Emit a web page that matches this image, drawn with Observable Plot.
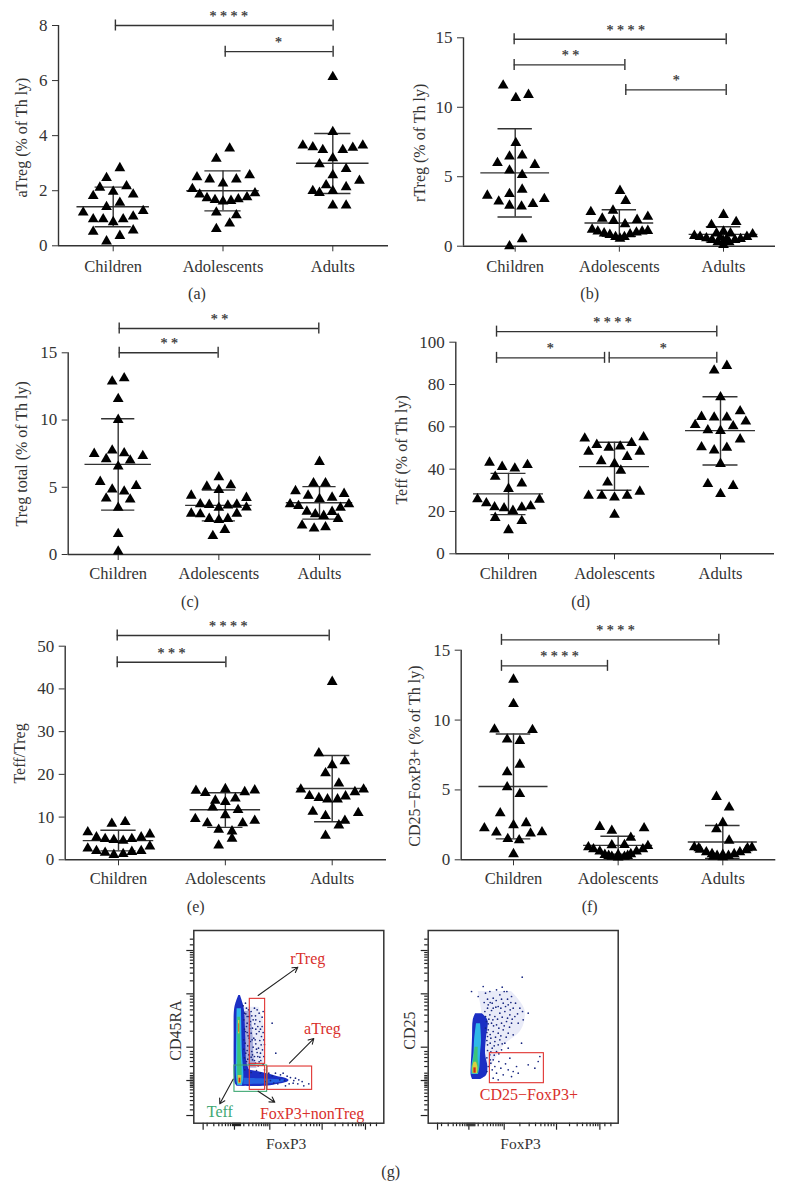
<!DOCTYPE html>
<html><head><meta charset="utf-8">
<script src="https://cdn.jsdelivr.net/npm/d3@7"></script>
<script src="https://cdn.jsdelivr.net/npm/@observablehq/plot@0.6"></script>
<style>
html,body{margin:0;padding:0;background:#fff}
#page{position:relative;width:786px;height:1190px;overflow:hidden;font-family:"Liberation Serif",serif;color:#333}
.tile{position:absolute}
.cap{position:absolute;font-size:16px;transform:translate(-50%,-50%);white-space:nowrap}
</style></head><body><div id="page"></div>
<script>
const groups=["Children","Adolescents","Adults"];
// (a) aTreg
const aChildren=[2.86,2.5,2.15,2.2,1.85,2.0,1.9,1.6,1.45,1.25,1.3,1.0,1.0,.9,1.0,1.1,.55,.6,.4,.2];
const aChildrenCol=[1,-1,-2,2,-3,0,3,1,-1,-4.5,4.5,-3,-1.5,0,1.5,3,-3,3,1,-1];
const aAdolescents=[3.57,3.2,2.53,2.45,2.3,2.45,2.6,2.1,1.9,1.77,1.7,1.65,1.67,1.73,1.8,1.95,1.25,1.15,.85,.65];
const aAdolescentsCol=[1,-1,-3.9,-2,0,2,4,-4.6,-3.5,-2.4,-1.2,0,1.2,2.3,3.6,4.8,-1,2,1,-1];
const aAdults=[6.17,4.17,3.68,3.62,3.52,3.52,3.6,3.68,3.22,3.0,2.83,2.6,2.4,2.24,2.17,2.03,1.96,2.03,1.5,1.5];
const aAdultsCol=[0,0,-4.5,-3,-1.5,1.5,3,4.5,0,-2,2,0,4,-1,2,-3,-2,0,0,2];
const aMean=[1.42,2.0,3.0], aUpper=[2.13,2.72,4.08], aLower=[.69,1.27,1.9];
const aBrackets=[[1.02,3.003,8,"* * * *",2.053],[2.02,3.003,7.05,"*",2.505]];
// (b) rTreg
const bChildren=[11.64,10.75,10.97,7.5,6.53,6.6,6.07,5.93,5.52,5.2,4.15,3.84,3.72,3.3,3.48,3.12,3.0,2.93,.58,.07];
const bChildrenCol=[-1.9,.1,2.1,.1,-.9,1.1,-2.8,3.1,-.9,1.1,1.1,-.9,-4.4,-2.6,4.6,2.8,-.9,1,1.1,-.9];
const bAdolescents=[4.06,3.34,2.54,2.64,2.2,2.06,1.97,1.9,1.66,1.27,1.13,1.0,.89,.74,.62,.74,.94,1.06,1.13,1.18];
const bAdolescentsCol=[.1,1,-4.5,-1,4.5,-2.7,2.8,-.9,.9,-4.3,-3.4,-2.4,-1.5,-.6,.1,.8,1.7,2.7,3.6,4.5];
const bAdults=[2.33,1.6,1.82,1.13,1.0,1.0,.82,.75,.65,.53,.36,.17,.36,.53,.6,.75,.94,.7,.6,.41];
const bAdultsCol=[0,-1.9,2,0,1.1,-1.1,-4.6,-3.7,-2.7,-1.8,-.9,0,.9,1.8,2.7,3.7,4.6,-.5,.5,0];
const bMean=[5.28,1.67,.85], bUpper=[8.45,2.62,1.4], bLower=[2.1,.72,.3];
const bBrackets=[[.99,3.026,14.9,"* * * *",2.062],[.99,2.053,13.05,"* *",1.531],[2.062,3.026,11.25,"*",2.546]];
// (c) Treg total
const cChildren=[13.19,12.94,11.65,10.09,7.81,7.56,7.61,7.41,7.17,7.07,6.62,5.48,5.18,4.91,4.76,4.24,4.17,3.55,1.61,.3];
const cChildrenCol=[1,-1,0,0,-1,-4,1,4.1,-2,2,0,-3,3,-1,1,-2,2,0,0,0];
const cAdolescents=[5.83,5.13,5.23,4.88,4.46,4.29,3.82,3.77,3.72,3.79,3.55,3.57,3.12,3.07,3.12,2.73,2.65,2.73,1.91,1.46];
const cAdolescentsCol=[0,-2,2,0,-4.6,4.6,-3.1,-1.6,1.5,3,0,4.6,-4.6,-3.1,3,-1.6,0,1.5,1,-1];
const cAdults=[6.97,5.38,5.38,4.79,4.46,4.31,4.59,4.21,3.82,3.69,3.82,3.55,3.27,3.25,3.07,2.95,2.73,2.23,2.11,2.01];
const cAdultsCol=[0,-1,1,-4,-1.9,2.1,4.1,0,-4.9,-3.5,4.9,3.5,-2.1,2.1,-.7,.7,3.1,-2.9,1,-.9];
const cMean=[6.7,3.65,3.85], cUpper=[10.1,4.8,5.05], cLower=[3.3,2.5,2.63];
const cBrackets=[[1.01,2.993,16.81,"* *",2.007],[1.01,1.993,15,"* *",1.507]];
// (d) Teff
const dChildren=[43.6,42.5,41.6,40.8,36.9,33.7,31.2,26.3,26.1,24.4,22.5,22,20.8,22.4,23,17.5,16,11.7];
const dChildrenCol=[-3,3,-1,1,-2.1,2.1,0,-4.9,4.9,-3.5,-2.2,-.7,.7,2.1,3.5,-2.1,2.1,0];
const dAdolescents=[55,55.6,52,52.9,50.7,51.2,48.7,48.8,46.3,44.3,43,39.8,34.2,29.9,27.9,27.9,28,27.1,19];
const dAdolescentsCol=[-4.7,4.6,-2.8,2.7,-.9,.9,-4.1,4,2,-2.1,0,1,-1.1,4,-4.1,-2,2,0,0];
const dAdults=[89.3,87.1,74.5,67.9,65.2,64.9,64.9,63,61.4,60.8,58.9,58.6,54.6,50.9,50.6,49.4,43,33.5,32.6,28.8];
const dAdultsCol=[1,-1,0,3.1,-3,-1,1,4,-4,2,-2,0,3.1,-3,1,-1,0,-2,2,0];
const dMean=[28.3,41.2,58.2], dUpper=[38,52.7,74.2], dLower=[18.5,30,42];
const dBrackets=[[.887,2.965,105,"* * * *",1.981],[.887,1.906,92.6,"*",1.393],[1.95,2.965,92.6,"*",2.459]];
// (e) Teff/Treg
const eChildren=[9.1,8.7,6.7,6.2,5.5,5.5,5.1,5.1,4.9,4.7,3.4,2.9,2.3,2.3,1.9,2.1,1.4,1.6];
const eChildrenCol=[1,-1,-4.6,4.7,-3.3,3.4,-2,2,-.7,.7,4.7,-4.6,-3.3,3.4,-2,2,-.7,.7];
const eAdolescents=[16.8,16.4,15.9,16.1,16.5,14.6,14.1,13.8,12.5,11.9,10.7,9.8,9.4,8.8,8.8,7.3,6.9,5.2,3.6];
const eAdolescentsCol=[0,-4.4,-3,2.9,4.4,1.5,-1.5,0,-1.9,1.9,0,-4.5,4.4,-2.7,2.6,-1,1,1,-1];
const eAdults=[41.9,25.2,23.3,22.4,20.5,18.1,16.7,16.7,15.2,16.1,14.7,14.4,14.4,15.1,11.5,11.2,10.5,9.4,8.3,5.9];
const eAdultsCol=[0,-2,1.9,0,-1,1,-4.7,4.7,-3.4,3.4,-2,-.7,.8,2,-2.9,3.9,-1,1.9,1,-1];
const eMean=[4.5,11.7,16.7], eUpper=[6.9,15.7,24.4], eLower=[2.1,7.6,8.9];
const eBrackets=[[.988,2.972,52.5,"* * * *",2.027],[.988,2.005,46.25,"* * *",1.496]];
// (f) CD25-FoxP3+
const fChildren=[12.97,11.23,9.4,9.37,8.68,8.59,6.89,6.34,5.27,4.79,3.41,2.7,2.55,2.34,2.03,2.05,1.96,1.57,1.48,.48];
const fChildrenCol=[0,0,-3,3,-1,1,1,-1,-1,1,-2.1,2,0,-4.6,-2.7,4.5,2.7,-.9,.9,0];
const fAdolescents=[2.43,2.34,2.15,1.65,1.12,1.14,.98,.83,.67,.43,.29,.24,.29,.48,.67,.83,1.07,.36,.36,.43];
const fAdolescentsCol=[-2.9,4.1,-1,2,-1,1,-4.7,-3.9,-2.9,-2.1,-1,0,1,2,2.9,3.9,4.7,-1.5,1.5,0];
const fAdults=[4.58,3.82,2.72,2.27,1.45,.98,.79,.62,.48,.36,.26,.36,.48,.62,.76,.95,.9,.9,.43,.3];
const fAdultsCol=[-1,1,0,-1,1,-4.5,-3.6,-2.6,-1.7,-.9,0,.9,1.8,2.7,3.7,4.6,-3.8,3.9,0,-1.5];
const fMean=[5.25,1.03,1.27], fUpper=[9,1.68,2.45], fLower=[1.5,.4,.1];
const fBrackets=[[.885,2.962,15.74,"* * * *",1.975],[.885,1.898,13.88,"* * * *",1.439]];

const ink="#333", serif="'Liberation Serif',serif";
const page=document.getElementById("page");
function place(el,left,top){const d=document.createElement("div");d.className="tile";d.style.left=left+"px";d.style.top=top+"px";d.appendChild(el);page.appendChild(d);}
function caption(t,x,y){const s=document.createElement("div");s.className="cap";s.textContent=t;s.style.left=x+"px";s.style.top=y+"px";page.appendChild(s);}

function scatterPanel(p){
  const pts=[];
  p.series.forEach((vals,g)=>vals.forEach((v,i)=>pts.push({x:g+1+p.cols[g][i]*p.slot,y:v})));
  const pxPerGroup=(p.x3-p.x1)/2;
  const xDom=[1-(p.x1-p.left)/pxPerGroup,3+(p.right-p.x3)/pxPerGroup];
  const h=(p.bottom-p.top)/p.ymax; // pixels per unit
  const q=5.5/h;
  const g=[1,2,3];
  const mk=[];
  const line={stroke:ink,strokeWidth:1.4};
  mk.push(Plot.ruleX([xDom[0]],{y1:0,y2:p.ymax,...line}));
  mk.push(Plot.ruleY([0],{x1:xDom[0],x2:xDom[1],...line}));
  mk.push(Plot.axisY({ticks:p.yticks,tickSize:6,tickPadding:5,fontSize:17,label:null,stroke:ink,fill:ink}));
  mk.push(Plot.axisX({ticks:g,tickSize:6,tickPadding:p.xPad,fontSize:16.5,label:null,stroke:ink,fill:ink,tickFormat:i=>groups[i-1]}));
  mk.push(Plot.ruleY(g,{y:i=>p.mean[i-1],x1:i=>i-.33,x2:i=>i+.33,...line}));
  mk.push(Plot.ruleY(g,{y:i=>p.upper[i-1],x1:i=>i-.165,x2:i=>i+.165,...line}));
  mk.push(Plot.ruleY(g,{y:i=>p.lower[i-1],x1:i=>i-.165,x2:i=>i+.165,...line}));
  mk.push(Plot.ruleX(g,{y1:i=>p.lower[i-1],y2:i=>p.upper[i-1],...line}));
  mk.push(Plot.dot(pts,{x:"x",y:"y",symbol:"triangle",r:4,fill:"#000",stroke:"none",dy:1}));
  mk.push(Plot.ruleY(p.brackets,{y:d=>d[2],x1:d=>d[0],x2:d=>d[1],...line}));
  mk.push(Plot.ruleX(p.brackets,{x:d=>d[0],y1:d=>d[2]-q,y2:d=>d[2]+q,...line}));
  mk.push(Plot.ruleX(p.brackets,{x:d=>d[1],y1:d=>d[2]-q,y2:d=>d[2]+q,...line}));
  mk.push(Plot.text(p.brackets,{x:d=>d[4],y:d=>d[2],text:d=>d[3],dy:-9,fontSize:14,fill:ink,stroke:ink,strokeWidth:.25}));
  mk.push(Plot.text([p.title],{frameAnchor:"left",textAnchor:"middle",y:p.titleY,dx:p.titleDx,rotate:-90,fontSize:16,fill:ink}));
  const w=p.tileW,ht=p.tileH;
  const plot=Plot.plot({width:w,height:ht,
    marginLeft:p.left-p.tileX,marginRight:p.tileX+w-p.right,
    marginTop:p.top-p.tileY,marginBottom:p.tileY+ht-p.bottom,
    style:{fontFamily:serif,background:"transparent"},
    x:{domain:xDom,axis:null},y:{domain:[0,p.ymax],axis:null},marks:mk});
  place(plot,p.tileX,p.tileY);
}

scatterPanel({tileX:0,tileY:0,tileW:393,tileH:280,left:58,right:388,top:25,bottom:245.3,x1:112.7,x3:332.3,ymax:8,yticks:[0,2,4,6,8],xPad:8,
 series:[aChildren,aAdolescents,aAdults],cols:[aChildrenCol,aAdolescentsCol,aAdultsCol],slot:.0607,mean:aMean,upper:aUpper,lower:aLower,brackets:aBrackets,title:"aTreg (% of Th ly)",titleY:3.93,titleDx:-37});
scatterPanel({tileX:393,tileY:0,tileW:393,tileH:280,left:463,right:775,top:37.3,bottom:245.7,x1:514.7,x3:723,ymax:15,yticks:[0,5,10,15],xPad:8,
 series:[bChildren,bAdolescents,bAdults],cols:[bChildrenCol,bAdolescentsCol,bAdultsCol],slot:.0608,mean:bMean,upper:bUpper,lower:bLower,brackets:bBrackets,title:"rTreg (% of Th ly)",titleY:7.44,titleDx:-44});
scatterPanel({tileX:0,tileY:310,tileW:393,tileH:280,left:67.7,right:370.7,top:352.3,bottom:554,x1:117.7,x3:319,ymax:15,yticks:[0,5,10,15],xPad:7,
 series:[cChildren,cAdolescents,cAdults],cols:[cChildrenCol,cAdolescentsCol,cAdultsCol],slot:.0596,mean:cMean,upper:cUpper,lower:cLower,brackets:cBrackets,title:"Treg total (% of Th ly)",titleY:7.49,titleDx:-46});
scatterPanel({tileX:393,tileY:310,tileW:393,tileH:280,left:455.3,right:774,top:341.7,bottom:553.3,x1:508,x3:720,ymax:100,yticks:[0,20,40,60,80,100],xPad:7,
 series:[dChildren,dAdolescents,dAdults],cols:[dChildrenCol,dAdolescentsCol,dAdultsCol],slot:.0597,mean:dMean,upper:dUpper,lower:dLower,brackets:dBrackets,title:"Teff (% of Th ly)",titleY:49.1,titleDx:-54});
scatterPanel({tileX:0,tileY:620,tileW:393,tileH:275,left:64.7,right:386,top:645.7,bottom:859.3,x1:118,x3:331.7,ymax:50,yticks:[0,10,20,30,40,50],xPad:6,
 series:[eChildren,eAdolescents,eAdults],cols:[eChildrenCol,eAdolescentsCol,eAdultsCol],slot:.0625,mean:eMean,upper:eUpper,lower:eLower,brackets:eBrackets,title:"Teff/Treg",titleY:24.9,titleDx:-45});
scatterPanel({tileX:393,tileY:620,tileW:393,tileH:275,left:460.7,right:775.3,top:649.7,bottom:859.3,x1:513,x3:722.3,ymax:15,yticks:[0,5,10,15],xPad:6,
 series:[fChildren,fAdolescents,fAdults],cols:[fChildrenCol,fAdolescentsCol,fAdultsCol],slot:.0605,mean:fMean,upper:fUpper,lower:fLower,brackets:fBrackets,title:"CD25\u2212FoxP3+ (% of Th ly)",titleY:7.42,titleDx:-46});

[["(a)",197,294],["(b)",589.7,294],["(c)",190,602],["(d)",580.7,602],["(e)",195.7,907],["(f)",589.7,907],["(g)",390.7,1172]].forEach(c=>caption(...c));

// (g) flow cytometry, axes in instrument channel units
const majorX=[28,122,228,385,515];
const minorX=[40,60,75,85,95,103,110,116,119,125,128,131,134,137,140,150,165,177,187,195,203,210,216,222,275,303,322,338,350,360,369,377,424,447,463,476,486,495,502,509,530,548];
const majorY=[23,128,228,388,518];
const minorY=[40,55,68,80,90,100,108,113,118,123,133,138,143,150,170,185,197,207,215,276,304,324,340,352,363,372,381,427,450,466,479,489,498,505,512,535,552];
// rows: [channel y, x from, x to]
const leftBlue=[[383,135,140],[358,126,148],[338,122,152],[258,121,156],[178,121,160],[138,122,175],[120,124,170],[111,130,150]];
const leftCloud=[[348,150,195],[300,150,210],[200,150,212],[172,155,210]];
const leftNear=[[335,150,172],[260,150,178],[190,150,182],[165,150,190]];
const leftCyan=[[343,130,143],[208,128,146],[138,128,150],[113,132,146]];
const leftGreen=[[318,132,140],[228,132,141],[148,132,145],[118,134,143]];
const leftYellowA=[[308,134,138],[268,134,138]];
const leftRedA=[[298,135,137],[273,135,137]];
const leftYellowB=[[143,133,144],[118,134,143]];
const leftRedB=[[135,136,141],[121,136,141]];
// rows: [channel x, y from, y to]
const leftComet=[[145,111,163],[200,110,153],[230,112,146],[250,116,140],[275,121,135],[285,126,130]];
const leftCometCore=[[150,116,135],[230,118,132],[272,124,130]];
const leftDots=[[152,330],[158,345],[165,320],[172,335],[178,310],[185,322],[190,340],[160,300],[168,295],[176,285],[183,298],[192,290],[198,305],[205,318],[155,275],[163,262],[172,270],[180,255],[188,268],[196,275],[203,260],[210,250],[154,240],[162,232],[170,245],[178,228],[186,238],[194,225],[202,235],[156,210],[165,205],[174,215],[182,200],[190,212],[198,198],[206,220],[158,185],[167,178],[176,190],[185,180],[193,172],[201,188],[153,160],[172,152],[188,158],[200,150],[212,160],[215,125],[225,150],[235,142],[245,150],[252,118],[260,145],[268,150],[275,112],[280,141],[290,137],[298,120],[305,135],[315,130],[325,125],[330,112],[235,300],[246,210],[300,128],[160,320],[170,305],[182,345],[148,352],[155,360],[158,290],[175,250],[192,200],[205,290],[150,310],[156,328],[164,340],[174,322],[186,310],[196,330],[208,335],[152,282],[160,272],[168,284],[186,282],[200,282],[208,272],[150,250],[166,255],[184,250],[198,248],[212,236],[150,222],[160,218],[176,205],[188,222],[200,210],[210,200],[152,196],[162,192],[172,198],[182,188],[196,184],[208,176],[230,128],[240,120],[258,130],[272,128],[286,118],[312,118],[345,118]];
const leftRedGates=[[168,214,178,373],[168,214,100,171],[221,355,100,170]];
const leftGreenGate=[[122,220,94,173]];
const leftArrows=[[193,383,312,468],[287,180,360,254],[118,132,78,58],[193,96,243,63]];
const leftLabels=[["rTreg",342,493,"#d9302c"],["aTreg",386,283,"#d9302c"],["Teff",78,34,"#3fa873"],["FoxP3+nonTreg",355,27,"#d9302c"]];

const rightBlue=[[328,142,162],[308,135,179],[258,133,175],[208,131,172],[168,129,179],[143,129,175],[131,133,157]];
const rightCloud=[[395,150,250],[340,160,290],[280,165,280],[230,170,225],[170,175,190]];
const rightCyan=[[298,145,157],[248,139,160],[208,137,157],[168,131,155],[146,131,151]];
const rightGreen=[[228,141,150],[188,136,150],[168,132,153],[148,133,150]];
const rightYellow=[[183,138,145],[168,134,149],[148,135,148]];
const rightRed=[[166,137,144],[150,137,144]];
const rightDots=[[130,395],[150,380],[165,410],[172,390],[185,395],[195,375],[205,400],[215,385],[228,395],[238,372],[250,380],[262,360],[275,345],[283,335],[255,345],[240,355],[225,360],[210,350],[195,345],[180,355],[170,335],[185,325],[200,320],[215,330],[230,335],[245,325],[260,320],[270,300],[285,310],[250,300],[235,305],[220,300],[205,295],[190,300],[175,305],[180,280],[195,275],[210,270],[225,280],[240,270],[255,265],[188,255],[200,245],[215,250],[230,240],[178,235],[192,225],[205,215],[220,220],[240,225],[185,205],[195,190],[280,240],[300,330],[282,438],[200,170],[205,150],[212,185],[218,165],[225,145],[232,178],[240,160],[245,195],[250,140],[195,135],[210,130],[265,170],[330,185],[320,165],[300,175],[270,150],[255,155],[335,200],[188,180],[192,160],[178,260],[172,285],[168,362],[178,372],[192,360],[222,408],[236,395],[172,320],[178,345],[190,338],[203,348],[218,345],[232,350],[246,340],[182,312],[194,310],[208,312],[222,318],[238,315],[252,312],[180,298],[196,292],[212,285],[228,292],[244,288],[176,272],[186,266],[202,258],[218,262],[234,258],[176,248],[186,240],[198,232],[210,235],[222,238],[178,218],[188,214],[198,204],[176,196],[186,190],[180,170],[176,155],[212,208],[186,362],[204,368],[220,372],[248,362],[268,328]];
const rightRedGates=[[185,347,120,210]];
const rightLabels=[["CD25\u2212FoxP3+",302,84,"#d9302c"]];

function band(rows,fill,opacity=1){
  return Plot.areaX(rows,{y:d=>d[0],x1:d=>d[1],x2:d=>d[2],fill,fillOpacity:opacity,curve:"catmull-rom",imageFilter:"blur(0.7px)"});
}
function gates(rows,stroke){
  return Plot.rect(rows,{x1:d=>d[0],x2:d=>d[1],y1:d=>d[2],y2:d=>d[3],fill:"none",stroke,strokeWidth:1.1});
}
function flowPanel(tx,frameL,marks,title,titleDx,titleCy,footX){
  const tickOpts={stroke:"#222",tickPadding:0,label:null,tickFormat:()=>"",strokeWidth:1.2};
  const all=[
    ...marks,
    Plot.axisX({ticks:minorX,tickSize:3.5,...tickOpts}),
    Plot.axisX({ticks:majorX,tickSize:7,...tickOpts}),
    Plot.axisY({ticks:minorY,tickSize:3.5,...tickOpts}),
    Plot.axisY({ticks:majorY,tickSize:7,...tickOpts}),
    Plot.frame({stroke:"#333",strokeWidth:1.5}),
    Plot.text([title],{frameAnchor:"left",textAnchor:"middle",y:titleCy,dx:titleDx,rotate:-90,fontSize:16,fill:ink}),
    Plot.text(["FoxP3"],{x:footX,y:-63,fontSize:15.5,fill:ink})
  ];
  place(Plot.plot({width:250,height:235,marginLeft:frameL-tx,marginRight:250-(frameL-tx)-190,marginTop:10,marginBottom:235-10-192.7,
    style:{fontFamily:serif,background:"transparent"},
    x:{domain:[0,570],axis:null},y:{domain:[0,578],axis:null},marks:all}),tx,920);
}
const labelMark=rows=>Plot.text(rows,{x:d=>d[1],y:d=>d[2],text:d=>d[0],fill:d=>d[3],fontSize:16});
flowPanel(150,193.3,[
  band(leftCloud,"#8492d8",.18),
  band(leftNear,"#2a3aa8",.35),
  band(leftBlue,"#1b2fc4"),
  Plot.areaY(leftComet,{x:d=>d[0],y1:d=>d[1],y2:d=>d[2],fill:"#1b2fc4",curve:"catmull-rom",imageFilter:"blur(0.7px)"}),
  Plot.areaY(leftCometCore,{x:d=>d[0],y1:d=>d[1],y2:d=>d[2],fill:"#2462e0",curve:"catmull-rom",imageFilter:"blur(0.7px)"}),
  Plot.dot(leftDots,{x:d=>d[0],y:d=>d[1],r:.85,fill:"#16257f"}),
  band(leftCyan,"#2fb8e8"),band(leftGreen,"#3bc47a"),
  band(leftYellowA,"#d8d040"),band(leftRedA,"#d84a20"),band(leftYellowB,"#d8d040"),band(leftRedB,"#d02a18"),
  gates(leftGreenGate,"#3fa873"),gates(leftRedGates,"#e0322f"),
  Plot.arrow(leftArrows,{x1:d=>d[0],y1:d=>d[1],x2:d=>d[2],y2:d=>d[3],stroke:"#222",strokeWidth:1.1,headLength:8,bend:false}),
  labelMark(leftLabels)
],"CD45RA",-18,278,277);
flowPanel(400,427.7,[
  band(rightCloud,"#8492d8",.18),
  band(rightBlue,"#1b2fc4"),
  Plot.dot(rightDots,{x:d=>d[0],y:d=>d[1],r:.85,fill:"#16257f"}),
  band(rightCyan,"#2fb8e8"),band(rightGreen,"#3bc47a"),band(rightYellow,"#d8d040"),band(rightRed,"#d02a18"),
  gates(rightRedGates,"#e0322f"),
  labelMark(rightLabels)
],"CD25",-18,278,277);
</script></body></html>
